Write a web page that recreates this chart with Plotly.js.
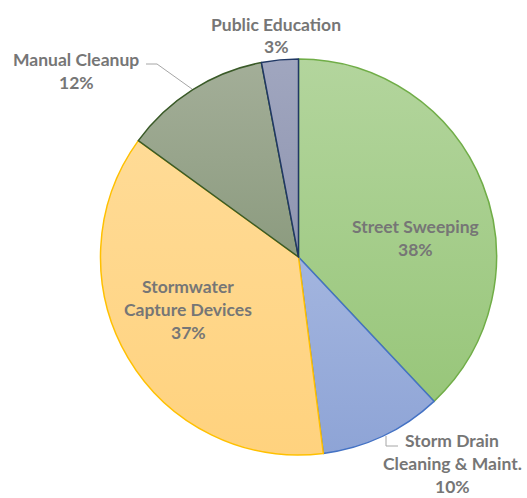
<!DOCTYPE html>
<html><head><meta charset="utf-8">
<script src="https://cdn.plot.ly/plotly-3.0.1.min.js"></script>
<style>html,body{margin:0;padding:0;background:#fff}#c{width:527px;height:498px}</style>
</head><body><div id="c"></div>
<script>
const categories = ["Street Sweeping", "Storm Drain Cleaning & Maint.", "Stormwater Capture Devices", "Manual Cleanup", "Public Education"];
const values = [38, 10, 37, 12, 3];
const labelLines = [["Street Sweeping"], ["Storm Drain", "Cleaning & Maint."], ["Stormwater", "Capture Devices"], ["Manual Cleanup"], ["Public Education"]];
const fillTop = ["#b3d59d", "#a3b5df", "#ffdb96", "#a3ae98", "#a0a6bf"];
const fillBot = ["#98c67a", "#8ea4d6", "#ffd27e", "#8c9b7f", "#8f95b0"];
const borders = ["#70ad47", "#4472c4", "#ffc000", "#3a5a28", "#203864"];

const W = 527, H = 498;
const cx = 298.5, cy = 257, R = 198;
// label anchor (pixel center of first line) for each slice
const labelPos = [[415, 226], [452, 440], [188, 286], [76, 59], [276, 24]];
const lineH = 23;

const annotations = [];
labelLines.forEach((lines, i) => {
  const all = lines.concat([values[i] + "%"]);
  all.forEach((t, j) => {
    annotations.push({
      text: t, showarrow: false, xref: "paper", yref: "paper",
      x: labelPos[i][0] / W, y: 1 - (labelPos[i][1] + j * lineH) / H,
      xanchor: "center", yanchor: "middle", borderpad: 0,
      font: {family: "Lato, 'Open Sans', sans-serif", size: 17.5, color: "#767676", weight: "bold"}
    });
  });
});

// leader lines
const px = (x) => x / W, py = (y) => 1 - y / H;
const shapes = [
  {type: "path", xref: "paper", yref: "paper",
   path: `M ${px(146)} ${py(64)} L ${px(157)} ${py(64)} L ${px(192)} ${py(89)}`,
   line: {color: "#a6a6a6", width: 1}},
  {type: "path", xref: "paper", yref: "paper",
   path: `M ${px(386)} ${py(436)} L ${px(386)} ${py(446)} L ${px(398)} ${py(446)}`,
   line: {color: "#a6a6a6", width: 1}}
];

const trace = {
  type: "pie", values: values, labels: categories, sort: false,
  direction: "clockwise", rotation: 0, textinfo: "none", hoverinfo: "label+percent",
  marker: {colors: fillTop, line: {color: borders, width: 1.5}},
  domain: {x: [(cx - R) / W, (cx + R) / W], y: [1 - (cy + R) / H, 1 - (cy - R) / H]}
};

Plotly.newPlot("c", [trace], {
  width: W, height: H, margin: {l: 0, r: 0, t: 0, b: 0},
  showlegend: false, paper_bgcolor: "#fff", annotations: annotations, shapes: shapes
}, {staticPlot: true}).then(() => {
  const svg = document.querySelector("#c svg.main-svg");
  const ns = "http://www.w3.org/2000/svg";
  let defs = svg.querySelector("defs");
  if (!defs) { defs = document.createElementNS(ns, "defs"); svg.insertBefore(defs, svg.firstChild); }
  const paths = document.querySelectorAll("#c .slice path.surface");
  paths.forEach((p, i) => {
    const g = document.createElementNS(ns, "linearGradient");
    g.setAttribute("id", "sg" + i);
    g.setAttribute("x1", "0"); g.setAttribute("y1", "0"); g.setAttribute("x2", "0"); g.setAttribute("y2", "1");
    [[0, fillTop[i]], [1, fillBot[i]]].forEach(([o, c]) => {
      const s = document.createElementNS(ns, "stop");
      s.setAttribute("offset", o); s.setAttribute("stop-color", c);
      g.appendChild(s);
    });
    defs.appendChild(g);
    p.style.fill = "url(#sg" + i + ")";
  });
});
</script></body></html>
